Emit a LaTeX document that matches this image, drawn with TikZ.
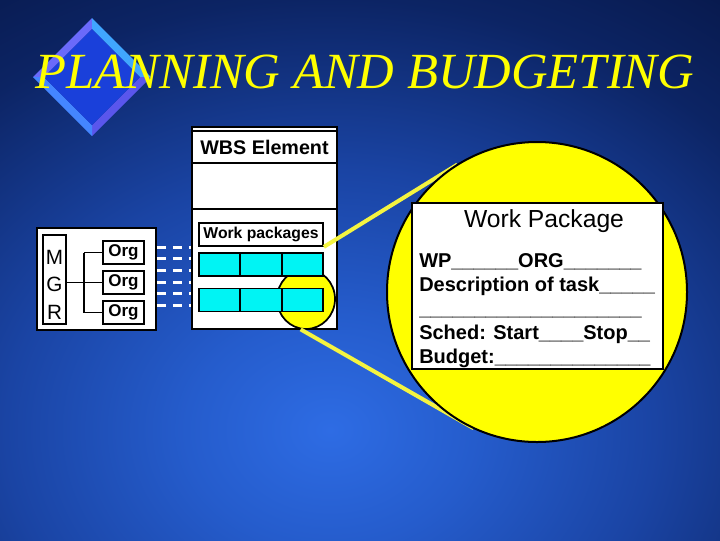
\documentclass[tikz,border=0pt]{standalone}
\usepackage{fontspec}
\setmainfont{Liberation Sans}
\newfontfamily\titlefont{Liberation Serif}
\usetikzlibrary{shapes.geometric}
\definecolor{bgA}{HTML}{2E6CE4}
\definecolor{bgB}{HTML}{255CCC}
\definecolor{bgC}{HTML}{1A44A4}
\definecolor{bgD}{HTML}{0C2464}
\definecolor{bgE}{HTML}{020A2C}
\definecolor{cyanc}{HTML}{00F4F4}
\definecolor{yel}{HTML}{FFFF00}
\definecolor{beamc}{HTML}{F4F440}
\definecolor{dTL}{HTML}{6A6AFA}
\definecolor{dTR}{HTML}{40A6FF}
\definecolor{dBR}{HTML}{5A56EC}
\definecolor{dBL}{HTML}{4486FF}
\definecolor{dIn}{HTML}{1A40DA}
\pgfdeclareradialshading{bgshade}{\pgfpoint{0bp}{0bp}}{color(0bp)=(bgA); color(4bp)=(bgB); color(9bp)=(bgC); color(15bp)=(bgD); color(24bp)=(bgE); color(50bp)=(bgE)}
\tikzset{
  wbox/.style={draw=black, fill=white, line width=1.3pt, inner sep=0pt},
  cell/.style={draw=black, fill=cyanc, line width=1.2pt, inner sep=0pt, minimum width=31.1pt, minimum height=17.25pt},
  orgbox/.style={wbox, minimum width=30.75pt, minimum height=17.25pt, font=\bfseries\fontsize{12.75}{14}\selectfont},
  letter/.style={inner sep=0pt, font=\fontsize{15.5}{17}\selectfont},
  dashw/.style={white, line width=2.25pt, dash pattern=on 6.75pt off 5.25pt},
  beam/.style={beamc, line width=3pt},
  tree/.style={black, line width=1.2pt},
  formtxt/.style={anchor=base west, inner sep=0pt, font=\bfseries\fontsize{15}{18}\selectfont},
}
\begin{document}
\begin{tikzpicture}[x=0.75pt, y=-0.75pt]
\useasboundingbox (0,0) rectangle (720,540);
% background
\begin{scope}
\clip (0,0) rectangle (720,540);
\shade[shading=bgshade] (-570,-290) rectangle (1230,1150);
\end{scope}
% diamond
\fill[dTL] (33,77) -- (92,18) -- (92,29) -- (44,77) -- cycle;
\fill[dTR] (92,18) -- (151,77) -- (140,77) -- (92,29) -- cycle;
\fill[dBR] (151,77) -- (92,136) -- (92,125) -- (140,77) -- cycle;
\fill[dBL] (92,136) -- (33,77) -- (44,77) -- (92,125) -- cycle;
\fill[dIn] (92,29) -- (140,77) -- (92,125) -- (44,77) -- cycle;
% title
\node[anchor=base, inner sep=0pt, text=yel, font=\titlefont\itshape\fontsize{38}{40}\selectfont] (title) at (365,88) {PLANNING AND BUDGETING};
% WBS element box
\node[wbox, minimum width=108.75pt, minimum height=151.5pt] (wbs) at (264.5,228) {};
\node[wbox, line width=1.6pt, minimum width=108.75pt, minimum height=24pt, font=\bfseries\fontsize{14.8}{16}\selectfont] (wbshead) at (264.5,147) {WBS Element};
\draw[black, line width=1.3pt] (wbs.west |- 0,209) -- (wbs.east |- 0,209);
% zoom circle
\node[ellipse, draw=black, fill=yel, line width=1.3pt, minimum width=43.5pt, minimum height=45pt, inner sep=0pt] (zoomc) at (306,299) {};
% work packages
\node[wbox, minimum width=93pt, minimum height=17.25pt, font=\bfseries\fontsize{11.8}{13}\selectfont] (wp) at (261,234.5) {Work packages};
\node[cell] (c11) at (219.5,264.5) {};
\node[cell] (c12) at (261,264.5) {};
\node[cell] (c13) at (302.5,264.5) {};
\node[cell] (c21) at (219.5,300) {};
\node[cell] (c22) at (261,300) {};
\node[cell] (c23) at (302.5,300) {};
% MGR box
\node[wbox, minimum width=89.25pt, minimum height=76.5pt] (mgrbox) at (96.5,279) {};
\node[wbox, minimum width=17.25pt, minimum height=66.75pt] (mgr) at (54.5,279.5) {};
\node[letter] (lm) at (54.5,257) {M};
\node[letter] (lg) at (54.5,284) {G};
\node[letter] (lr) at (54.5,312) {R};
\node[orgbox] (org1) at (123.5,252.5) {Org};
\node[orgbox] (org2) at (123.5,282.5) {Org};
\node[orgbox] (org3) at (123.5,312.5) {Org};
\coordinate (jn) at (84,282.5);
\draw[tree] (mgr.east |- org2) -- (org2.west);
\draw[tree] (jn |- org1.west) -- (jn |- org3.west);
\draw[tree] (jn |- org1.west) -- (org1.west);
\draw[tree] (jn |- org3.west) -- (org3.west);
% dashed links
\foreach \yy in {247,258.5,270,282,293.5,305.5}{
  \draw[dashw] (mgrbox.east |- 0,\yy) -- (wbs.west |- 0,\yy);
}
% big circle and beams
\node[circle, minimum size=225pt, inner sep=0pt] (bigc) at (537,292) {};
\draw[beam] (wp.south east) -- (bigc.122);
\draw[beam] (zoomc.260) -- (bigc.245);
\node[circle, draw=black, fill=yel, line width=1.5pt, minimum size=225pt, inner sep=0pt] (bigcf) at (537,292) {};
\node[wbox, line width=1.5pt, minimum width=188.25pt, minimum height=124.5pt] (form) at (537.5,286) {};
\node[anchor=base, inner sep=0pt, font=\fontsize{18.5}{20}\selectfont] (ftitle) at (544,227) {Work Package};
\node[formtxt] (f1) at (419,267) {WP\_\_\_\_\_\_ORG\_\_\_\_\_\_\_};
\node[formtxt] (f2) at (419,291) {Description of task\_\_\_\_\_};
\node[formtxt] (f3) at (419,315) {\_\_\_\_\_\_\_\_\_\_\_\_\_\_\_\_\_\_\_\_};
\node[formtxt] (f4) at (419,339) {Sched: Start\_\_\_\_Stop\_\_};
\node[formtxt] (f5) at (419,363) {Budget:\_\_\_\_\_\_\_\_\_\_\_\_\_\_};
\end{tikzpicture}
\end{document}
